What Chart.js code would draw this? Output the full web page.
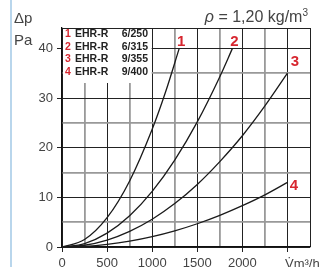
<!DOCTYPE html>
<html>
<head>
<meta charset="utf-8">
<script src="https://cdn.jsdelivr.net/npm/chart.js@4"></script>
<style>
  body { margin: 0; background: #fff; }
  canvas { display: block; }
</style>
</head>
<body>
<canvas id="chart" width="331" height="267"></canvas>
<script>
// Volumenstrom in m³/h und Druckverlust in Pa, je Kurve
const flow1 = [0, 250, 500, 750, 1000, 1150, 1300];
const dp1 = [0, 1.5, 5.9, 13.3, 23.7, 31.3, 40];
const flow2 = [0, 250, 500, 750, 1000, 1250, 1500, 1750, 1890];
const dp2 = [0, 0.7, 2.8, 6.3, 11.2, 17.5, 25.2, 34.3, 40];
const flow3 = [0, 250, 500, 750, 1000, 1250, 1500, 1750, 2000, 2250, 2500];
const dp3 = [0, 0.35, 1.4, 3.15, 5.6, 8.75, 12.6, 17.2, 22.4, 28.4, 35];
const flow4 = [0, 250, 500, 750, 1000, 1250, 1500, 1750, 2000, 2250, 2500];
const dp4 = [0, 0.13, 0.52, 1.17, 2.08, 3.25, 4.68, 6.37, 8.32, 10.5, 13];

const kurven = ['1', '2', '3', '4'];
const typen = ['EHR-R', 'EHR-R', 'EHR-R', 'EHR-R'];
const groessen = ['6/250', '6/315', '9/355', '9/400'];

const xLabels = [0, 500, 1000, 1500, 2000];
const yLabels = [0, 10, 20, 30, 40];

const rot = '#d7262f';
const schrift = '"Liberation Sans", Arial, sans-serif';

function punkte(xs, ys) {
    return xs.map((v, i) => ({ x: v, y: ys[i] }));
}

const deko = {
    id: 'deko',
    beforeDatasetsDraw(chart) {
        const { ctx, chartArea: a, scales: { x } } = chart;
        // weisses Feld fuer die Legende
        ctx.save();
        ctx.fillStyle = '#fff';
        ctx.fillRect(a.left + 1, a.top + 1, x.getPixelForValue(1000) - a.left - 1.5, 54);
        ctx.restore();
    },
    afterDraw(chart) {
        const { ctx, chartArea: a } = chart;
        ctx.save();

        // blaue Linie links
        ctx.fillStyle = '#b9d6ec';
        ctx.fillRect(10, 0, 2, 267);

        // Achsentitel
        ctx.fillStyle = '#444';
        ctx.font = '15px ' + schrift;
        ctx.textAlign = 'left';
        ctx.textBaseline = 'alphabetic';
        ctx.fillText('Δp', 14, 23);
        ctx.fillText('Pa', 14, 45);

        ctx.font = '13px ' + schrift;
        ctx.fillText('V\u0307m³/h', 285, 268);

        // Dichte oben rechts
        ctx.font = '10px ' + schrift;
        const w3 = ctx.measureText('3').width;
        ctx.fillText('3', 308 - w3, 16);
        ctx.font = '16px ' + schrift;
        const rest = ' = 1,20 kg/m';
        const wr = ctx.measureText(rest).width;
        ctx.fillText(rest, 308 - w3 - wr, 22);
        ctx.font = 'italic 16px ' + schrift;
        const wp = ctx.measureText('ρ').width;
        ctx.fillText('ρ', 308 - w3 - wr - wp, 22);

        // Legende
        ctx.textBaseline = 'middle';
        for (let i = 0; i < kurven.length; i++) {
            const yy = 34.5 + i * 12.5;
            ctx.font = 'bold 10.5px ' + schrift;
            ctx.fillStyle = rot;
            ctx.textAlign = 'left';
            ctx.fillText(kurven[i], 65, yy);
            ctx.fillStyle = '#222';
            ctx.fillText(typen[i], 75, yy);
            ctx.textAlign = 'right';
            ctx.fillText(groessen[i], 148, yy);
        }

        // Kurvennummern am Kurvenende
        const versatz = [[2, -7], [2, -7], [7.5, -11], [6.5, 3]];
        ctx.font = 'bold 15px ' + schrift;
        ctx.fillStyle = rot;
        ctx.textAlign = 'center';
        chart.data.datasets.forEach((ds, i) => {
            const p = chart.getDatasetMeta(i).data.at(-1);
            ctx.fillText(kurven[i], p.x + versatz[i][0], p.y + versatz[i][1]);
        });

        ctx.restore();
    }
};

const linie = {
    borderColor: '#1a1a1a',
    borderWidth: 1.3,
    pointRadius: 0,
    fill: false,
    cubicInterpolationMode: 'monotone'
};

const ctx = document.getElementById('chart').getContext('2d');

new Chart(ctx, {
    type: 'line',
    data: {
        datasets: [
            { label: kurven[0], data: punkte(flow1, dp1), ...linie },
            { label: kurven[1], data: punkte(flow2, dp2), ...linie },
            { label: kurven[2], data: punkte(flow3, dp3), ...linie },
            { label: kurven[3], data: punkte(flow4, dp4), ...linie }
        ]
    },
    options: {
        responsive: false,
        animation: false,
        layout: { padding: { left: 0, top: 28, right: 21, bottom: 0 } },
        plugins: {
            legend: { display: false },
            tooltip: { enabled: false }
        },
        scales: {
            x: {
                type: 'linear',
                min: 0,
                max: 2750,
                afterFit: s => { s.height = 20; },
                border: { color: '#111', width: 1.3 },
                grid: {
                    color: c => (c.tick.value % 500 === 0 || c.tick.value === 2750) ? '#222' : '#999',
                    lineWidth: c => (c.tick.value % 500 === 0 || c.tick.value === 2750) ? 1 : 1.8,
                    tickColor: c => c.tick.value % 500 === 0 ? '#222' : 'rgba(0,0,0,0)',
                    tickLength: 5
                },
                ticks: {
                    stepSize: 250,
                    autoSkip: false,
                    maxRotation: 0,
                    padding: 4,
                    color: '#444',
                    font: { family: schrift, size: 13 },
                    callback: v => xLabels.includes(v) ? v : ''
                }
            },
            y: {
                type: 'linear',
                min: 0,
                max: 44.1,
                afterFit: s => { s.width = 62; },
                border: { color: '#111', width: 1.3 },
                grid: {
                    color: c => (c.tick.value % 10 === 0 || c.tick.value > 44) ? '#222' : '#999',
                    lineWidth: c => (c.tick.value % 10 === 0 || c.tick.value > 44) ? 1 : 1.8,
                    tickColor: c => c.tick.value % 10 === 0 ? '#222' : 'rgba(0,0,0,0)',
                    tickLength: 5
                },
                ticks: {
                    stepSize: 5,
                    padding: 4,
                    color: '#444',
                    font: { family: schrift, size: 13 },
                    callback: v => yLabels.includes(v) ? v : ''
                }
            }
        }
    },
    plugins: [deko]
});
</script>
</body>
</html>
